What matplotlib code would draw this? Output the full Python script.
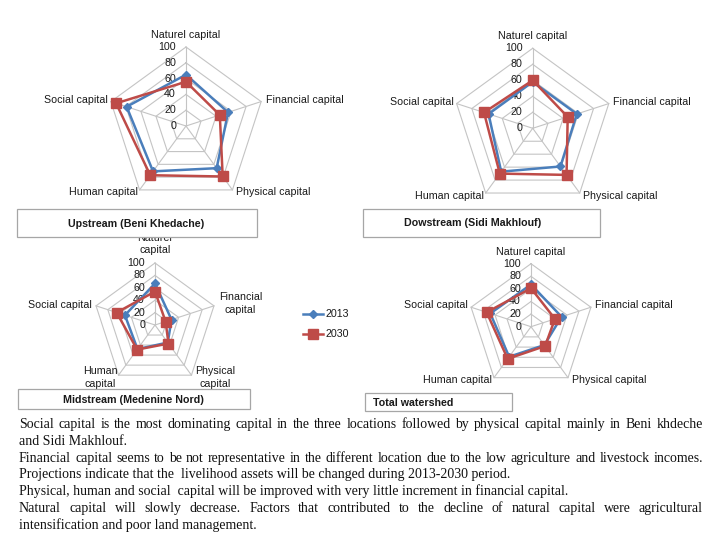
import numpy as np
import matplotlib
matplotlib.use('Agg')
import matplotlib.pyplot as plt
from matplotlib.patches import Rectangle
from matplotlib.lines import Line2D

plt.rcParams['font.family'] = ['Liberation Sans', 'DejaVu Sans']

W, H = 720, 540

# ---------------------------------------------------------------------------
# DATA (scores 0-100)
# ---------------------------------------------------------------------------
categories = ['Naturel capital', 'Financial capital', 'Physical capital',
              'Human capital', 'Social capital']
categories_wrapped = ['Naturel\ncapital', 'Financial\ncapital', 'Physical\ncapital',
                      'Human\ncapital', 'Social capital']
years = ['2013', '2030']
radial_ticks = [0, 20, 40, 60, 80, 100]

upstream_2013 = [65, 56, 66, 71, 79]
upstream_2030 = [56, 45, 79, 77, 93]
downstream_2013 = [58, 58, 59, 67, 58]
downstream_2030 = [60, 46, 72, 70, 64]
midstream_2013 = [67, 28, 35, 48, 51]
midstream_2030 = [54, 18, 37, 49, 65]
total_2013 = [67, 51, 36, 59, 68]
total_2030 = [61, 40, 38, 63, 74]

paragraph = [
    ("Social capital is the most dominating capital in the three locations followed by "
     "physical capital mainly in Beni khdeche", True),
    ("and Sidi Makhlouf.", False),
    ("Financial capital seems to be not representative in the  different location due to "
     "the low agriculture and livestock incomes.", True),
    ("Projections indicate that the  livelihood assets will be changed during 2013-2030 period.", False),
    ("Physical, human and social  capital will be improved with very little increment in "
     "financial capital.", False),
    ("Natural capital will slowly decrease.  Factors that contributed to the decline of "
     "natural capital were agricultural", True),
    ("intensification and poor land management.", False),
]

# ---------------------------------------------------------------------------
# STYLE
# ---------------------------------------------------------------------------
BLUE = '#4a7ebb'
RED = '#be4b48'
GRID = '#c4c4c4'
TXT = '#1a1a1a'
FS = 7.7

fig = plt.figure(figsize=(W / 100, H / 100), dpi=100)

# label offsets in pixels (dx, dy down, ha) relative to the r=100 vertex
LAB_STD = [(0, -12, 'center'), (4.5, -2, 'left'), (3.5, 2.5, 'left'),
           (-2, 2.5, 'right'), (-3, -2, 'right')]
LAB_WRAP = [(0, -19, 'center'), (5, -2, 'left'), (4, 2, 'left'),
            (-1, 2, 'right'), (-4, -1, 'right')]


def radar(cx, cy, R, v13, v30, labels, lab_pos):
    k = 1.9
    ax = fig.add_axes([(cx - k * R) / W, (H - cy - k * R) / H,
                       2 * k * R / W, 2 * k * R / H])
    ax.set_xlim(-100 * k, 100 * k)
    ax.set_ylim(-100 * k, 100 * k)
    ax.axis('off')
    px = 100.0 / R

    ang = np.deg2rad(90 - 72 * np.arange(5))
    ca, sa = np.cos(ang), np.sin(ang)
    for r in radial_ticks[1:]:
        ax.plot(np.append(r * ca, r * ca[0]), np.append(r * sa, r * sa[0]),
                color=GRID, lw=0.8, zorder=1)
    for c, s in zip(ca, sa):
        ax.plot([0, 100 * c], [0, 100 * s], color=GRID, lw=0.8, zorder=1)
    for r in radial_ticks:
        ax.text(-10 * px, r, str(r), ha='right', va='center',
                fontsize=FS, color=TXT, zorder=2)

    for vals, col, mk, ms, z in ((v13, BLUE, 'D', 4.5, 3), (v30, RED, 's', 6.5, 4)):
        v = np.asarray(vals, dtype=float)
        xs, ys = v * ca, v * sa
        ax.plot(np.append(xs, xs[0]), np.append(ys, ys[0]), color=col, lw=1.8,
                zorder=z, solid_joinstyle='miter')
        ax.plot(xs, ys, ls='none', marker=mk, ms=ms, color=col,
                markeredgecolor=col, zorder=z)

    for lab, c, s, (dx, dy, ha) in zip(labels, ca, sa, lab_pos):
        ax.text(100 * c + dx * px, 100 * s - dy * px, lab, ha=ha, va='center',
                multialignment='center', fontsize=FS, color=TXT,
                linespacing=1.35)
    return ax


radar(186, 126, 79, upstream_2013, upstream_2030, categories, LAB_STD)
radar(532.7, 128.3, 80, downstream_2013, downstream_2030, categories, LAB_STD)
radar(155, 325, 62, midstream_2013, midstream_2030, categories_wrapped, LAB_WRAP)
radar(531, 326.7, 63, total_2013, total_2030, categories, LAB_STD)

# ---------------------------------------------------------------------------
# OVERLAY: caption boxes, legend, paragraph (pixel coordinates)
# ---------------------------------------------------------------------------
ov = fig.add_axes([0, 0, 1, 1], zorder=10)
ov.set_xlim(0, W)
ov.set_ylim(H, 0)
ov.axis('off')
ov.patch.set_alpha(0)

boxes = [
    (16.7, 209, 257.3, 237.3, 'Upstream (Beni Khedache)', 136, 'center'),
    (363, 209, 600, 236.7, 'Dowstream (Sidi Makhlouf)', 472.5, 'center'),
    (18, 389.3, 250, 409.3, 'Midstream (Medenine Nord)', 133.5, 'center'),
    (365, 393.3, 512, 411, 'Total watershed', 373.3, 'left'),
]
for x0, y0, x1, y1, txt, tx, ha in boxes:
    ov.add_patch(Rectangle((x0, y0), x1 - x0, y1 - y0, facecolor='white',
                           edgecolor='#a6a6a6', lw=0.9))
    ov.text(tx, (y0 + y1) / 2 + 0.5, txt, ha=ha, va='center', fontsize=FS,
            fontweight='bold', color=TXT)

# legend
for yr, col, mk, ms, ly in ((years[0], BLUE, 'D', 4.5, 314), (years[1], RED, 's', 6.5, 334)):
    ov.add_line(Line2D([303, 323], [ly, ly], color=col, lw=1.8))
    ov.add_line(Line2D([313], [ly], marker=mk, ms=ms, color=col))
    ov.text(325, ly, yr, ha='left', va='center', fontsize=FS, color=TXT)

# paragraph with justified lines (baseline aligned)
fig.canvas.draw()
renderer = fig.canvas.get_renderer()
X0, X1 = 19, 703
Y0, DY = 428, 16.8
serif = dict(fontsize=10, family='Liberation Serif', color='#111111', va='baseline')
for i, (line, justify) in enumerate(paragraph):
    y = Y0 + i * DY
    if not justify:
        ov.text(X0, y, line, ha='left', **serif)
        continue
    words = line.split()
    texts = [ov.text(X0, y, w, ha='left', **serif) for w in words]
    widths = [t.get_window_extent(renderer=renderer).width for t in texts]
    gap = (X1 - X0 - sum(widths)) / (len(words) - 1)
    x = X0
    for t, w in zip(texts, widths):
        t.set_x(x)
        x += w + gap

fig.savefig('out.png', dpi=100)
